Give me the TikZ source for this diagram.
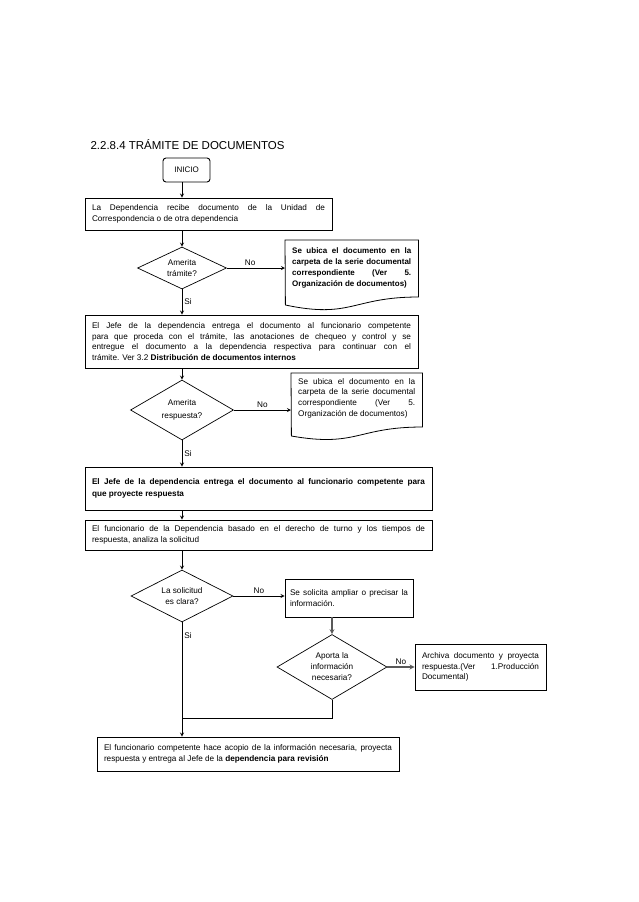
\documentclass[tikz,border=0pt]{standalone}
\usepackage{fontspec}
\setmainfont{Liberation Sans}
\usepackage{tikz}
\usetikzlibrary{shapes.geometric, arrows}
\usetikzlibrary{positioning}
\hyphenpenalty=10000
\exhyphenpenalty=10000
\tolerance=9999
\tikzstyle{startNode} = [rectangle, rounded corners=3pt, minimum width=47, minimum height=24, draw=black, line width=0.9, font=\fontsize{8}{10}\selectfont]
\tikzstyle{processBox} = [rectangle, draw=black, line width=0.9, inner xsep=7, inner ysep=3, align=justify, font=\fontsize{8.2}{10.8}\selectfont]
\tikzstyle{decisionNode} = [diamond, draw=black, line width=0.7, aspect=2, inner sep=0, align=center, font=\fontsize{8.2}{11}\selectfont]
\tikzstyle{docNode} = [rectangle, anchor=north west, inner xsep=7, inner ysep=5, align=justify, font=\fontsize{8.2}{10.8}\selectfont]
\tikzstyle{arrow} = [line width=0.8,->,>=stealth]
\tikzstyle{grayArrow} = [line width=1.2,->,>=stealth, draw=black!65]
\tikzstyle{plainLine} = [line width=0.8]
\tikzstyle{answer} = [font=\fontsize{8.2}{10}\selectfont, inner sep=2]

\begin{document}
\begin{tikzpicture}[x=1pt, y=-1pt, node distance=1.5 cm]
                                \useasboundingbox (0,0) rectangle (638,902);
                                \node (0) [anchor=west, font=\fontsize{11.5}{13}\selectfont] at (87,145) {2.2.8.4 TRÁMITE DE DOCUMENTOS};
                                \node (1) [startNode] at (186.5,170) {INICIO};
                                \node (2) [processBox, text width=233, minimum height=32] at (208.5,214) {La Dependencia recibe documento de la Unidad de\linebreak Correspondencia o de otra dependencia};
                                \node (3) [decisionNode, minimum width=89, minimum height=42] at (182,268) {Amerita\\trámite?};
                                \node (4) [docNode, text width=119, inner ysep=7, font=\fontsize{8}{11}\selectfont\bfseries] at (285,240) {Se ubica el documento en la\linebreak carpeta de la serie documental\linebreak correspondiente (Ver 5.\linebreak Organización de documentos)};
                                \draw [plainLine] (4.north west) -- (4.north east) -- ++(0,57) .. controls +(-66,0) and +(66,14) .. ++(-133,8) -- cycle;
                                \node (5) [processBox, text width=319, minimum height=53] at (251.5,341.5) {El Jefe de la dependencia entrega el documento al funcionario competente\linebreak para que proceda con el trámite, las anotaciones de chequeo y control y se\linebreak entregue el documento a la dependencia respectiva para continuar con el\linebreak trámite. Ver 3.2 \textbf{Distribución de documentos internos}};
                                \node (6) [decisionNode, minimum width=103, minimum height=60] at (182,410) {Amerita\\[2pt]respuesta?};
                                \node (7) [docNode, text width=117] at (291,373) {Se ubica el documento en la\linebreak carpeta de la serie documental\linebreak correspondiente (Ver 5.\linebreak Organización de documentos)};
                                \draw [plainLine] (7.north west) -- (7.north east) -- ++(0,54) .. controls +(-65.5,0) and +(65.5,11.5) .. ++(-131,9) -- cycle;
                                \node (8) [processBox, text width=333, minimum height=43, font=\fontsize{8.2}{12.5}\selectfont\bfseries] at (258.5,488.5) {El Jefe de la dependencia entrega el documento al funcionario competente para\linebreak que proyecte respuesta};
                                \node (9) [processBox, text width=333, minimum height=30] at (258.5,535) {El funcionario de la Dependencia basado en el derecho de turno y los tiempos de\linebreak respuesta, analiza la solicitud};
                                \node (10) [decisionNode, minimum width=102, minimum height=52] at (182,596) {La solicitud\\es clara?};
                                \node (11) [processBox, text width=118, inner xsep=5, minimum height=38] at (349,598) {Se solicita ampliar o precisar la\linebreak información.};
                                \node (12) [decisionNode, minimum width=110, minimum height=65] at (332,667) {Aporta la\\información\\necesaria?};
                                \node (13) [processBox, text width=117, minimum height=46] at (480.5,667) {Archiva documento y proyecta\linebreak respuesta.(Ver 1.Producción\linebreak Documental)};
                                \node (14) [processBox, text width=288, minimum height=34] at (248,754) {El funcionario competente hace acopio de la información necesaria, proyecta\linebreak respuesta y entrega al Jefe de la \textbf{dependencia para revisión}};
                                \coordinate (15) at (182,718);
                                \draw [arrow] (1.south -| 3) -- (3 |- 2.north);
                                \draw [arrow] (3 |- 2.south) -- (3.north);
                                \draw [arrow] (3.east) -- node [answer, above, pos=0.4] {No} (3.east -| 4.west);
                                \draw [arrow] (3.south) -- node [answer, right] {Si} (3 |- 5.north);
                                \draw [arrow] (3 |- 5.south) -- (6.north);
                                \draw [arrow] (6.east) -- node [answer, above] {No} (6.east -| 7.west);
                                \draw [arrow] (6.south) -- node [answer, right] {Si} (6 |- 8.north);
                                \draw [arrow] (6 |- 8.south) -- (6 |- 9.north);
                                \draw [arrow] (10 |- 9.south) -- (10.north);
                                \draw [arrow] (10.east) -- node [answer, above] {No} (10.east -| 11.west);
                                \draw [grayArrow] (12 |- 11.south) -- (12.north);
                                \draw [grayArrow] (12.east) -- node [answer, above, text=black] {No} (12.east -| 13.west);
                                \draw [arrow] (10.south) -- node [answer, right, pos=0.12] {Si} (10 |- 14.north);
                                \draw [plainLine] (12.south) |- (15);
                            \end{tikzpicture}
\end{document}
